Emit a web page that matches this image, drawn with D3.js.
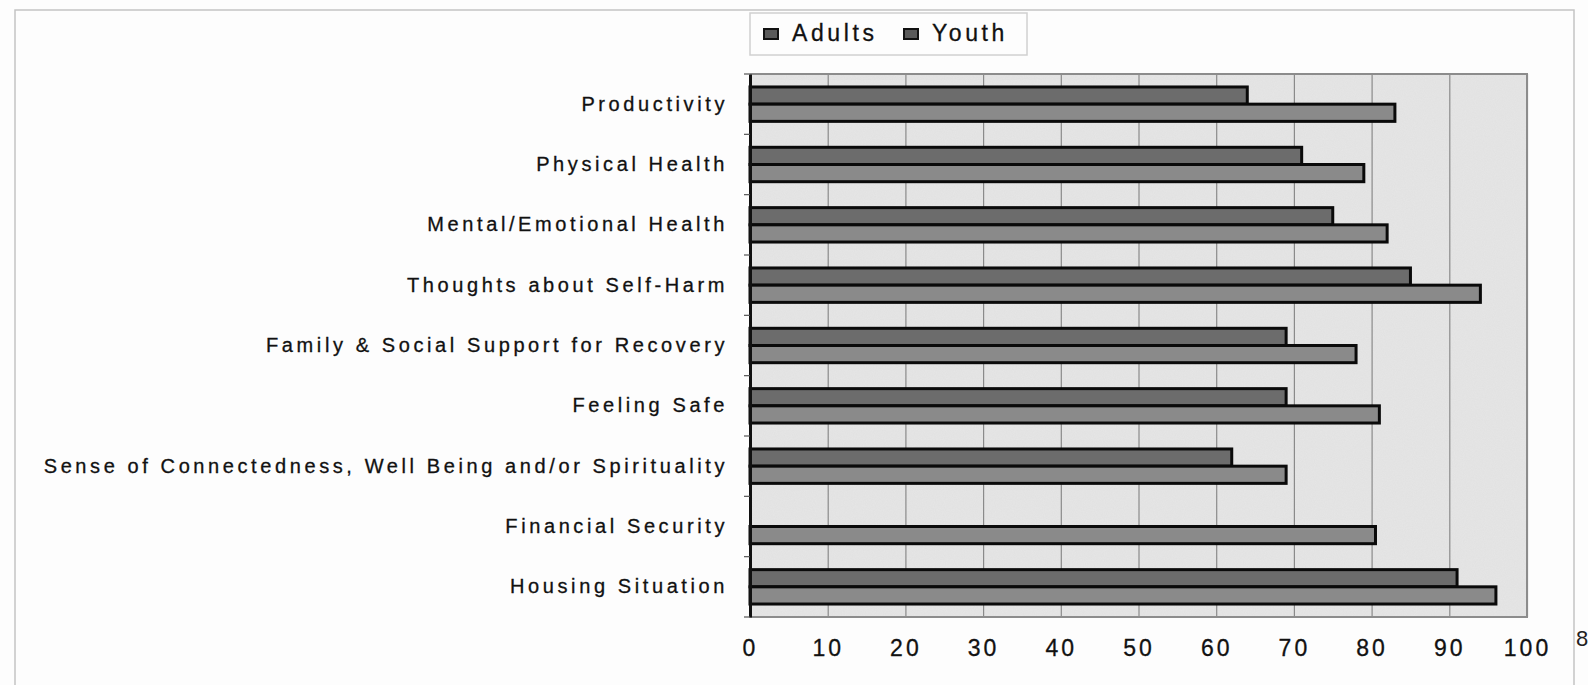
<!DOCTYPE html>
<html>
<head>
<meta charset="utf-8">
<script src="https://cdn.jsdelivr.net/npm/d3@7"></script>
<style>
  body { margin: 0; background: #fdfdfd; }
  svg { display: block; font-family: "Liberation Sans", Arial, sans-serif; }
</style>
</head>
<body>
<div id="chart"></div>
<script>
var categories = ["Productivity", "Physical Health", "Mental/Emotional Health",
    "Thoughts about Self-Harm", "Family & Social Support for Recovery", "Feeling Safe",
    "Sense of Connectedness, Well Being and/or Spirituality", "Financial Security",
    "Housing Situation"];
var seriesNames = ["Adults", "Youth"];
var adults = [64, 71, 75, 85, 69, 69, 62, null, 91];
var youth = [83, 79, 82, 94, 78, 81, 69, 80.5, 96];
var xTicks = [0, 10, 20, 30, 40, 50, 60, 70, 80, 90, 100];

var W = 1588, H = 685;
var margin = {top: 74, right: 61, bottom: 68, left: 750},
    width = W - margin.left - margin.right,
    height = H - margin.top - margin.bottom;

var colors = {Adults: "#6c6c6c", Youth: "#8a8a8a"};

var svg = d3.select("#chart").append("svg")
    .attr("width", W)
    .attr("height", H);

// grain filter to mimic the scanned look
var defs = svg.append("defs");
var f = defs.append("filter").attr("id", "grain").attr("x", 0).attr("y", 0)
    .attr("width", "100%").attr("height", "100%");
f.append("feTurbulence").attr("type", "fractalNoise").attr("baseFrequency", 0.9)
    .attr("numOctaves", 2).attr("seed", 3).attr("result", "noise");
f.append("feColorMatrix").attr("in", "noise").attr("type", "matrix")
    .attr("values", "0 0 0 0 0.5  0 0 0 0 0.5  0 0 0 0 0.5  0 0 0 0.15 0")
    .attr("result", "n2");
f.append("feComposite").attr("in", "n2").attr("in2", "SourceGraphic").attr("operator", "atop");

// outer frame
svg.append("path")
    .attr("d", "M15," + H + " L15,10 L1574,10 L1574," + H)
    .attr("fill", "none")
    .attr("stroke", "#c4c4c4")
    .attr("stroke-width", 1.5);

var g = svg.append("g")
    .attr("transform", "translate(" + margin.left + "," + margin.top + ")");

var x = d3.scaleLinear().domain([0, 100]).range([0, width]);
var y = d3.scaleBand().domain(categories).range([0, height])
    .paddingInner(0.43).paddingOuter(0.215);
var y1 = d3.scaleBand().domain(seriesNames).range([0, y.bandwidth()]);

// plot background
g.append("rect")
    .attr("width", width)
    .attr("height", height)
    .attr("fill", "#e6e6e6")
    .attr("filter", "url(#grain)");

// vertical grid lines
g.append("g")
    .attr("transform", "translate(0," + height + ")")
    .call(d3.axisBottom(x).tickValues(xTicks).tickSize(-height).tickFormat(""))
    .call(function (a) { a.select(".domain").remove(); })
    .selectAll(".tick line")
    .attr("stroke", "#8a8a8a")
    .attr("stroke-width", 1.2);

// plot border (top, right, bottom)
g.append("path")
    .attr("d", "M0,0 L" + width + ",0 L" + width + "," + height + " L0," + height)
    .attr("fill", "none")
    .attr("stroke", "#8c8c8c")
    .attr("stroke-width", 2);

// bars
var rows = categories.map(function (c, i) {
    return {cat: c, values: [{key: "Adults", v: adults[i]}, {key: "Youth", v: youth[i]}]};
});

var grp = g.selectAll(".cat")
    .data(rows)
    .enter().append("g")
    .attr("class", "cat")
    .attr("transform", function (d) { return "translate(0," + y(d.cat) + ")"; });

grp.selectAll("rect")
    .data(function (d) { return d.values.filter(function (v) { return v.v != null; }); })
    .enter().append("rect")
    .attr("x", 0)
    .attr("y", function (d) { return y1(d.key); })
    .attr("width", function (d) { return x(d.v); })
    .attr("height", y1.bandwidth())
    .attr("fill", function (d) { return colors[d.key]; })
    .attr("stroke", "#0a0a0a")
    .attr("stroke-width", 3);

// category axis
var yAxis = g.append("g")
    .call(d3.axisLeft(y).tickSize(0).tickPadding(22));
yAxis.select(".domain").attr("stroke", "#111").attr("stroke-width", 3);
yAxis.selectAll("text")
    .attr("fill", "#111")
    .attr("stroke", "#111")
    .attr("stroke-width", 0.3)
    .style("font-size", "20px")
    .style("letter-spacing", "3.6px");

// small tick marks between categories
g.selectAll(".cticks")
    .data(d3.range(categories.length + 1))
    .enter().append("line")
    .attr("x1", -6).attr("x2", 0)
    .attr("y1", function (i) { return i * y.step(); })
    .attr("y2", function (i) { return i * y.step(); })
    .attr("stroke", "#555")
    .attr("stroke-width", 1.2);

// value axis labels
var xAxis = g.append("g")
    .attr("transform", "translate(0," + height + ")")
    .call(d3.axisBottom(x).tickValues(xTicks).tickSize(0).tickPadding(23));
xAxis.select(".domain").remove();
xAxis.selectAll("text")
    .attr("fill", "#111")
    .attr("stroke", "#111")
    .attr("stroke-width", 0.3)
    .style("font-size", "23px")
    .style("letter-spacing", "3px");

// legend
var leg = svg.append("g").attr("transform", "translate(750,13)");
leg.append("rect")
    .attr("width", 277).attr("height", 42)
    .attr("fill", "#fdfdfd")
    .attr("stroke", "#d0d0d0")
    .attr("stroke-width", 1.5);
var items = [{key: "Adults", x: 14}, {key: "Youth", x: 154}];
items.forEach(function (it) {
    leg.append("rect")
        .attr("x", it.x).attr("y", 16)
        .attr("width", 14).attr("height", 10)
        .attr("fill", "#5a5a5a")
        .attr("stroke", "#111")
        .attr("stroke-width", 2);
    leg.append("text")
        .attr("x", it.x + 28).attr("y", 20)
        .attr("dy", "0.35em")
        .attr("fill", "#111")
        .attr("stroke", "#111")
        .attr("stroke-width", 0.3)
        .style("font-size", "23px")
        .style("letter-spacing", "3.6px")
        .text(it.key);
});

// partly visible character at the right edge of the scan
svg.append("text")
    .attr("x", 1576).attr("y", 646)
    .attr("fill", "#222")
    .style("font-size", "22px")
    .text("8");
</script>
</body>
</html>
